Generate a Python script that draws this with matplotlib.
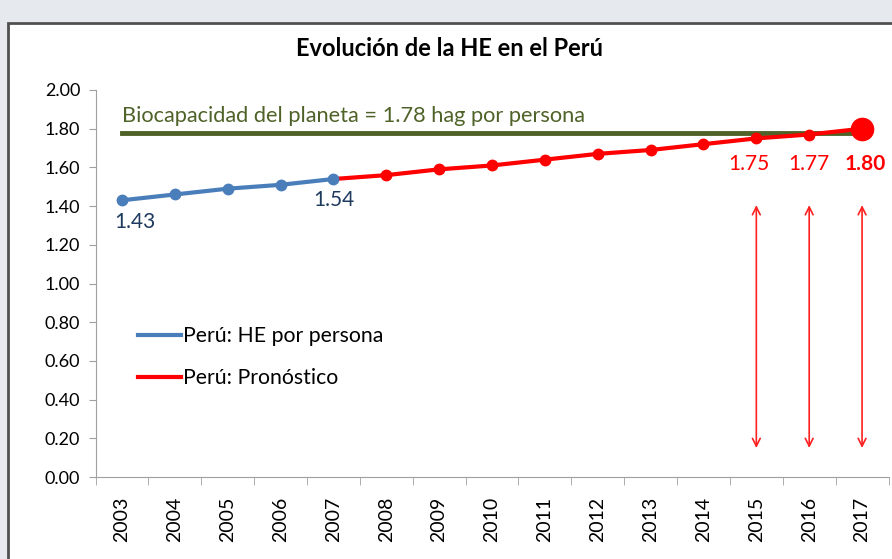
import matplotlib.pyplot as plt
from matplotlib.patches import Rectangle
from matplotlib.lines import Line2D

# datos
anios = [2003, 2004, 2005, 2006, 2007, 2008, 2009, 2010, 2011, 2012, 2013, 2014, 2015, 2016, 2017]
he_hist = [1.43, 1.46, 1.49, 1.51, 1.54]
he_pron = [1.54, 1.56, 1.59, 1.61, 1.64, 1.67, 1.69, 1.72, 1.75, 1.77, 1.80]
biocapacidad = 1.78
yticks = [0.0, 0.2, 0.4, 0.6, 0.8, 1.0, 1.2, 1.4, 1.6, 1.8, 2.0]

plt.rcParams['font.family'] = ['Lato', 'DejaVu Sans']

W, H = 892, 559
fig = plt.figure(figsize=(W / 100, H / 100), dpi=100)

# franja gris de fondo y marco del grafico
fig.patches.append(Rectangle((0, 1 - 22 / H), 1, 22 / H, transform=fig.transFigure,
                             facecolor='#e6e9ee', edgecolor='none', zorder=0))
fig.patches.append(Rectangle((0, 0), 8 / W, 1, transform=fig.transFigure,
                             facecolor='#e6e9ee', edgecolor='none', zorder=0))
fig.patches.append(Rectangle((8 / W, -0.01), 1, 1 - 23 / H + 0.01, transform=fig.transFigure,
                             facecolor='white', edgecolor='#505050', linewidth=2, zorder=1))

ax = fig.add_axes([95.5 / W, 1 - 477 / H, (888.5 - 95.5) / W, (477 - 90) / H])
ax.set_zorder(5)
ax.set_facecolor('none')

ax.set_xlim(2002.5, 2017.5)
ax.set_ylim(0, 2.0)
ax.set_yticks(yticks)
ax.set_yticklabels(['%.2f' % v for v in yticks], fontsize=13)
ax.set_xticks(anios)
ax.set_xticklabels([str(a) for a in anios], rotation=90, fontsize=14)
ax.set_xticks([a + 0.5 for a in [2002] + anios], minor=True)
ax.tick_params(axis='x', which='major', length=0, pad=14)
ax.tick_params(axis='x', which='minor', length=6, color='#a0a0a0')
ax.tick_params(axis='y', length=5, color='#a0a0a0', pad=6)

for s in ['top', 'right']:
    ax.spines[s].set_visible(False)
ax.spines['left'].set_color('#a0a0a0')
ax.spines['bottom'].set_color('#a0a0a0')

# biocapacidad del planeta
ax.plot([anios[0], anios[-1]], [biocapacidad, biocapacidad], color='#4f6228', linewidth=3.5, zorder=2)
ax.text(2003, 1.815, 'Biocapacidad del planeta = 1.78 hag por persona', color='#4f6228',
        fontsize=15.7, ha='left', va='bottom')

# series
ax.plot(anios[:5], he_hist, color='#4a7ebb', linewidth=3, marker='o', markersize=7.5, zorder=4)
ax.plot(anios[4:], he_pron, color='#ff0000', linewidth=3, zorder=3)
ax.plot(anios[5:-1], he_pron[1:-1], color='#ff0000', linestyle='none', marker='o', markersize=7.5, zorder=3)
ax.plot(anios[-1], he_pron[-1], color='#ff0000', marker='o', markersize=16, zorder=5, clip_on=False)

# etiquetas de valores
ax.text(2003.25, 1.32, '%.2f' % he_hist[0], color='#1f3a5f', fontsize=15, ha='center', va='center')
ax.text(2007, 1.43, '%.2f' % he_hist[-1], color='#1f3a5f', fontsize=15, ha='center', va='center')
ax.text(2014.85, 1.62, '%.2f' % he_pron[-3], color='#ff0000', fontsize=15, ha='center', va='center')
ax.text(2016, 1.62, '%.2f' % he_pron[-2], color='#ff0000', fontsize=15, ha='center', va='center')
ax.text(2017.05, 1.62, '%.2f' % he_pron[-1], color='#ff0000', fontsize=15,
        fontweight='bold', ha='center', va='center')

# flechas
for a in anios[-3:]:
    ax.annotate('', xy=(a, 1.405), xytext=(a, 0.15),
                arrowprops=dict(arrowstyle='<->', color='#ff2020', lw=1.2,
                                mutation_scale=14, shrinkA=0, shrinkB=0))

handles = [Line2D([], [], color='#4a7ebb', linewidth=3),
           Line2D([], [], color='#ff0000', linewidth=3)]
ax.legend(handles, ['Perú: HE por persona', 'Perú: Pronóstico'], loc='upper left',
          bbox_to_anchor=(0.054, 0.39), frameon=False, fontsize=15.3, borderpad=0,
          borderaxespad=0, handlelength=2.0, handletextpad=0.1, labelspacing=1.05)

fig.text(0.5 + 4 / W, 1 - 48 / H, 'Evolución de la HE en el Perú', ha='center', va='center',
         fontsize=17, fontweight='bold')

fig.savefig('out.png', dpi=100)
